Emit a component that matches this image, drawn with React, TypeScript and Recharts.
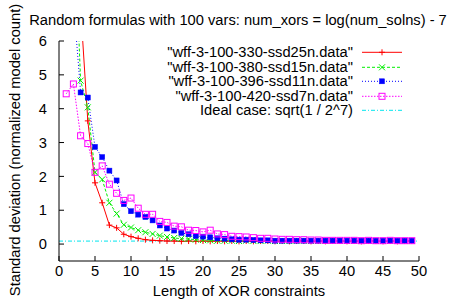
import React from 'react';
import { LineChart, Line, XAxis, YAxis, ReferenceLine, Legend, Label } from 'recharts';

const FONT = '"Liberation Sans", Arial, Helvetica, sans-serif';
const FS = 14.7;

const titleText = 'Random formulas with 100 vars: num_xors = log(num_solns) - 7';
const xLabelText = 'Length of XOR constraints';
const yLabelText = 'Standard deviation (normalized model count)';

const xorLengths = [
  1, 2, 3, 4, 5, 6, 7, 8, 9, 10, 11, 12, 13, 14, 15, 16, 17, 18, 19, 20,
  21, 22, 23, 24, 25, 26, 27, 28, 29, 30, 31, 32, 33, 34, 35, 36, 37, 38, 39, 40,
  41, 42, 43, 44, 45, 46, 47, 48, 49,
];

const ssd25n = [
  25, 15, 7.0, 3.64, 1.81, 1.22, 0.56, 0.48, 0.29, 0.22, 0.17, 0.13, 0.11, 0.1, 0.09, 0.09, 0.08, 0.09, 0.08, 0.09,
  0.08, 0.09, 0.08, 0.09, 0.08, 0.09, 0.08, 0.09, 0.09, 0.08, 0.09, 0.08, 0.09, 0.09, 0.08, 0.09, 0.08, 0.09, 0.09, 0.08,
  0.09, 0.08, 0.09, 0.09, 0.08, 0.09, 0.08, 0.09, 0.09,
];

const ssd15n = [
  30, 10.1, 4.83, 4.04, 2.12, 1.91, 1.22, 0.9, 0.57, 0.49, 0.41, 0.35, 0.3, 0.25, 0.21, 0.18, 0.16, 0.15, 0.13, 0.12,
  0.11, 0.1, 0.1, 0.1, 0.09, 0.1, 0.09, 0.09, 0.1, 0.09, 0.09, 0.09, 0.09, 0.1, 0.09, 0.09, 0.09, 0.09, 0.09, 0.09,
  0.09, 0.09, 0.09, 0.09, 0.09, 0.09, 0.09, 0.09, 0.09,
];

const ssd11n = [
  20, 7.2, 4.48, 4.33, 2.87, 2.57, 2.17, 1.88, 1.18, 0.97, 0.87, 0.8, 0.7, 0.55, 0.46, 0.4, 0.33, 0.29, 0.24, 0.22,
  0.2, 0.17, 0.16, 0.14, 0.13, 0.13, 0.12, 0.11, 0.11, 0.1, 0.1, 0.1, 0.1, 0.1, 0.1, 0.1, 0.1, 0.1, 0.1, 0.1,
  0.1, 0.1, 0.1, 0.1, 0.1, 0.1, 0.1, 0.1, 0.1,
];

const ssd7n = [
  4.44, 4.73, 3.2, 2.97, 2.12, 2.31, 1.77, 1.5, 1.29, 1.36, 1.06, 0.88, 0.88, 0.67, 0.64, 0.53, 0.51, 0.41, 0.4, 0.36,
  0.41, 0.3, 0.28, 0.23, 0.22, 0.21, 0.19, 0.17, 0.17, 0.15, 0.14, 0.14, 0.13, 0.13, 0.12, 0.12, 0.11, 0.11, 0.11, 0.11,
  0.11, 0.1, 0.11, 0.1, 0.1, 0.11, 0.1, 0.1, 0.1,
];

const idealValue = 0.0884; // sqrt(1 / 2^7)

const xTicks = [0, 5, 10, 15, 20, 25, 30, 35, 40, 45, 50];
const yTicks = [0, 1, 2, 3, 4, 5, 6];

type Kind = 'plus' | 'cross' | 'fsquare' | 'osquare' | 'none';

const series: { key: string; name: string; color: string; dash?: string; kind: Kind }[] = [
  { key: 's25', name: '"wff-3-100-330-ssd25n.data"', color: '#ff0000', kind: 'plus' },
  { key: 's15', name: '"wff-3-100-380-ssd15n.data"', color: '#00ee00', dash: '3 2', kind: 'cross' },
  { key: 's11', name: '"wff-3-100-396-ssd11n.data"', color: '#0000ff', dash: '1 2', kind: 'fsquare' },
  { key: 's7', name: '"wff-3-100-420-ssd7n.data"', color: '#ff00ff', dash: '1.5 1.5', kind: 'osquare' },
];
const ideal = { name: 'Ideal case: sqrt(1 / 2^7)', color: '#00e5ee', dash: '4 2 1 2' };

const data = xorLengths.map((x, i) => ({
  x,
  s25: ssd25n[i],
  s15: ssd15n[i],
  s11: ssd11n[i],
  s7: ssd7n[i],
}));

function marker(kind: Kind, color: string, cx: number, cy: number, key?: any) {
  switch (kind) {
    case 'plus':
      return <path key={key} d={`M${cx - 3},${cy}H${cx + 3}M${cx},${cy - 3}V${cy + 3}`} stroke={color} strokeWidth={1} fill="none" />;
    case 'cross':
      return <path key={key} d={`M${cx - 3},${cy - 3}L${cx + 3},${cy + 3}M${cx - 3},${cy + 3}L${cx + 3},${cy - 3}`} stroke={color} strokeWidth={1} fill="none" />;
    case 'fsquare':
      return <rect key={key} x={cx - 2.5} y={cy - 2.5} width={5} height={5} fill={color} stroke={color} strokeWidth={0.5} />;
    case 'osquare':
      return <rect key={key} x={cx - 3} y={cy - 3} width={6} height={6} fill="none" stroke={color} strokeWidth={1} />;
    default:
      return <g key={key} />;
  }
}

function makeDot(kind: Kind, color: string) {
  return (props: any) => {
    const { cx, cy, index } = props;
    if (cx == null || cy == null || Number.isNaN(cx) || Number.isNaN(cy)) return <g key={`d${index}`} />;
    return marker(kind, color, cx, cy, `d${index}`);
  };
}

const renderLegend = () => {
  const rows = [
    ...series.map((s) => ({ name: s.name, color: s.color, dash: s.dash, kind: s.kind })),
    { name: ideal.name, color: ideal.color, dash: ideal.dash, kind: 'none' as Kind },
  ];
  return (
    <div style={{ fontFamily: FONT, fontSize: FS, color: '#000' }}>
      {rows.map((r, i) => (
        <div key={i} style={{ display: 'flex', alignItems: 'center', height: 14.6, lineHeight: '14.6px' }}>
          <div style={{ width: 353, textAlign: 'right', whiteSpace: 'nowrap' }}>{r.name}</div>
          <svg width={42} height={14.6} style={{ marginLeft: 9, display: 'block' }}>
            <line x1={0} y1={7.3} x2={40} y2={7.3} stroke={r.color} strokeWidth={1} strokeDasharray={r.dash} />
            {marker(r.kind, r.color, 20, 7.3)}
          </svg>
        </div>
      ))}
    </div>
  );
};

export default function App() {
  const tickStyle = { fontSize: FS, fill: '#000', fontFamily: FONT };
  return (
    <div style={{ position: 'absolute', left: 0, top: 0, width: 451, height: 306, background: '#fff' }}>
      <LineChart
        width={451}
        height={306}
        data={data}
        margin={{ top: 41, right: 32, bottom: 15, left: 0 }}
        style={{ fontFamily: FONT }}
      >
        <XAxis
          dataKey="x"
          type="number"
          domain={[0, 50]}
          ticks={xTicks}
          interval={0}
          allowDataOverflow
          height={30}
          stroke="#000"
          tickLine={{ stroke: '#000' }}
          tickSize={-5}
          tickMargin={10}
          tick={tickStyle}
        >
          <Label
            content={(p: any) => {
              const vb = p.viewBox || {};
              return (
                <text x={vb.x + vb.width / 2} y={vb.y + 35} textAnchor="middle" fontSize={FS} fontFamily={FONT} fill="#000">
                  {xLabelText}
                </text>
              );
            }}
          />
        </XAxis>
        <XAxis
          xAxisId="top"
          orientation="top"
          dataKey="x"
          type="number"
          domain={[0, 50]}
          ticks={xTicks}
          interval={0}
          allowDataOverflow
          height={0}
          stroke="#000"
          tickLine={{ stroke: '#000' }}
          tickSize={-5}
          tickFormatter={() => ''}
        />
        <YAxis
          type="number"
          domain={[-0.5, 6]}
          ticks={yTicks}
          interval={0}
          allowDataOverflow
          width={59}
          stroke="#000"
          tickLine={{ stroke: '#000' }}
          tickSize={-5}
          tickMargin={17}
          tick={tickStyle}
        >
          <Label
            content={(p: any) => {
              const vb = p.viewBox || {};
              const cy = vb.y + vb.height / 2 - 1;
              return (
                <text
                  x={0}
                  y={0}
                  transform={`translate(${vb.x + 19.5}, ${cy}) rotate(-90)`}
                  textAnchor="middle"
                  fontSize={FS}
                  fontFamily={FONT}
                  fill="#000"
                >
                  {yLabelText}
                </text>
              );
            }}
          />
        </YAxis>
        <YAxis
          yAxisId="right"
          orientation="right"
          type="number"
          domain={[-0.5, 6]}
          ticks={yTicks}
          interval={0}
          allowDataOverflow
          width={0}
          stroke="#000"
          tickLine={{ stroke: '#000' }}
          tickSize={-5}
          tickFormatter={() => ''}
        />
        <ReferenceLine y={idealValue} stroke={ideal.color} strokeWidth={1} strokeDasharray={ideal.dash} />
        {series.map((s) => (
          <Line
            key={s.key}
            dataKey={s.key}
            name={s.name}
            stroke={s.color}
            strokeWidth={1}
            strokeDasharray={s.dash}
            dot={makeDot(s.kind, s.color)}
            activeDot={false}
            isAnimationActive={false}
            type="linear"
          />
        ))}
        <Legend
          layout="vertical"
          align="center"
          verticalAlign="middle"
          content={renderLegend}
          wrapperStyle={{ left: 0, top: 45, width: 451, height: 75 }}
        />
      </LineChart>
      <svg width={451} height={30} style={{ position: 'absolute', left: 0, top: 0 }}>
        <text x={238} y={25} textAnchor="middle" fontSize={FS} fontFamily={FONT} fill="#000">
          {titleText}
        </text>
      </svg>
    </div>
  );
}
